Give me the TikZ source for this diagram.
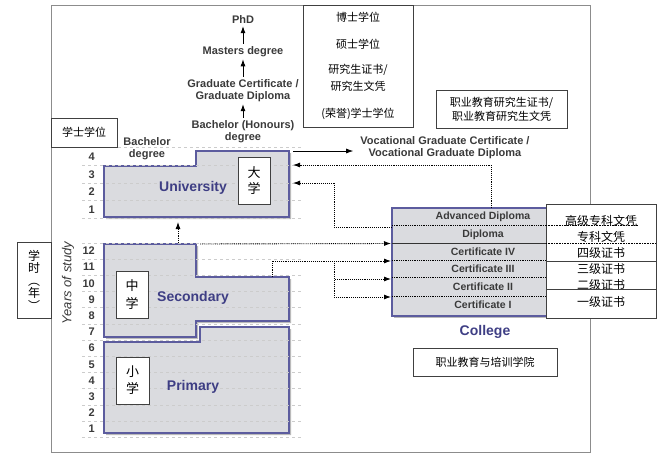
\documentclass[tikz,border=0pt]{standalone}
\usepackage{fontspec}
\setmainfont{Liberation Sans}
\newfontfamily\cjk{Noto Sans CJK SC}
\usetikzlibrary{calc,positioning,arrows.meta,shadows}
\definecolor{sectorfill}{RGB}{218,219,223}
\definecolor{sectorline}{RGB}{92,92,158}
\definecolor{sectorname}{RGB}{62,62,132}
\definecolor{awardtext}{RGB}{58,58,58}
\tikzstyle{outerframe} = [draw=black!45, line width=0.9pt]
\tikzstyle{schoolbox} = [draw=sectorline, line width=1.2pt, fill=sectorfill, drop shadow={shadow xshift=2pt, shadow yshift=-2pt, fill=black!45, opacity=0.6}]
\tikzstyle{sectortitle} = [text=sectorname, font=\bfseries\fontsize{14}{16}\selectfont]
\tikzstyle{award} = [text=awardtext, font=\bfseries\fontsize{11}{12}\selectfont, align=center, inner sep=1pt]
\tikzstyle{rowlabel} = [text=awardtext, font=\bfseries\fontsize{10.5}{12}\selectfont, inner sep=0pt]
\tikzstyle{year} = [text=awardtext, font=\bfseries\fontsize{11}{12}\selectfont, anchor=east, inner sep=0pt]
\tikzstyle{note} = [draw=black!75, fill=white, line width=0.6pt, align=center, inner sep=0pt, font=\cjk\fontsize{11}{14}\selectfont]
\tikzstyle{connector} = [line width=0.8pt, -{Latex[length=7pt,width=5pt]}]
\tikzstyle{pathway} = [line width=0.9pt, densely dotted, -{Latex[length=7pt,width=5pt]}]
\tikzstyle{yearline} = [dashed, draw=black!20, line width=0.7pt]
\begin{document}
\begin{tikzpicture}[x=1pt, y=-1pt]
    \useasboundingbox (0,0) rectangle (670,458);
    \draw[outerframe] (51,5) rectangle (590,452);
    % the three school sectors
    \draw[schoolbox] (104,166) -- (196,166) -- (196,151) -- (289,151) -- (289,217) -- (104,217) -- cycle;
    \draw[schoolbox] (104,244) -- (196,244) -- (196,277) -- (289,277) -- (289,321) -- (196,321) -- (196,337) -- (104,337) -- cycle;
    \draw[schoolbox] (104,342) -- (200,342) -- (200,327) -- (289,327) -- (289,433) -- (104,433) -- cycle;
    \coordinate (unitop) at (289,151);
    \coordinate (uniright1) at (293,165);
    \coordinate (uniright2) at (293,183);
    \coordinate (unibottom) at (178,222);
    \coordinate (secup) at (178,243);
    \coordinate (sectop) at (200,244);
    \coordinate (secstep) at (272,277);
    % years of study
    \foreach \y in {147,165,183,200,218}
        \draw[yearline] (82,\y) -- (303,\y);
    \foreach \k in {0,...,12}
        \draw[yearline] (82,{243+16.2*\k}) -- (303,{243+16.2*\k});
    \foreach \n/\y in {4/157,3/175,2/192,1/210}
        \node[year] (uni\n) at (95,\y) {\n};
    \foreach \n in {1,...,12}
        \node[year] (sch\n) at (95,{251+16.2*(12-\n)}) {\n};
    \node[rotate=90, text=awardtext, font=\itshape\fontsize{13}{14}\selectfont] (yearsofstudy) at (68,283) {Years of study};
    \node[sectortitle] (university) at (193,188) {University};
    \node[sectortitle] (secondary) at (193,298) {Secondary};
    \node[sectortitle] (primary) at (193,387) {Primary};
    \node[note, minimum width=32pt, minimum height=47pt, font=\cjk\fontsize{13}{16}\selectfont] (daxue) at (254,180.5) {大\\学};
    \node[note, minimum width=32pt, minimum height=47pt, font=\cjk\fontsize{13}{18}\selectfont] (zhongxue) at (132,294.5) {中\\学};
    \node[note, minimum width=33pt, minimum height=47pt, font=\cjk\fontsize{13}{17}\selectfont] (xiaoxue) at (132.5,380.5) {小\\学};
    % college
    \node[schoolbox, minimum width=188pt, minimum height=108pt, inner sep=0pt] (college) at (486,262) {};
    \foreach \name/\txt/\y in {adv/Advanced Diploma/217, dip/Diploma/235, cert4/Certificate IV/252, cert3/Certificate III/269, cert2/Certificate II/287, cert1/Certificate I/305}
        \node[rowlabel] (\name) at (483,\y) {\txt};
    \foreach \y in {225,260,277,296}
        \draw[densely dotted, line width=0.8pt] (392,\y) -- (546,\y);
    \draw[line width=0.8pt, black!80] (392,243) -- (546,243);
    \node[note, minimum width=110pt, minimum height=114pt, font=\cjk\fontsize{12}{16.2}\selectfont] (collegecn) at (601,261) {高级专科文凭\\专科文凭\\四级证书\\三级证书\\二级证书\\一级证书};
    \draw[densely dotted, line width=0.6pt] (546,225) -- (638,225);
    \draw[densely dotted, line width=0.6pt] (546,243) -- (656,243);
    \draw[line width=0.6pt, black!75] (546,261) -- (656,261);
    \draw[line width=0.6pt, black!75] (546,289) -- (656,289);
    \node[sectortitle] (collegename) at (485,332) {College};
    \node[note, minimum width=144pt, minimum height=28pt] (tafe) at (485,362) {职业教育与培训学院};
    \coordinate (advtop) at (491,208);
    \coordinate (dipleft) at (392,227);
    \coordinate (cert4in) at (391,243.5);
    \coordinate (cert3in) at (391,261);
    \coordinate (cert2in) at (391,279);
    \coordinate (cert1in) at (391,297);
    \coordinate (branch) at (334,261);
    % higher education awards
    \node[award] (phd) at (243,20) {PhD};
    \node[award, below of = phd, yshift = -3.5pt] (masters) {Masters degree};
    \node[award, below of = masters, yshift = -10.5pt] (gradcert) {Graduate Certificate /\\Graduate Diploma};
    \node[award, below of = gradcert, yshift = -12.5pt] (honours) {Bachelor (Honours)\\degree};
    \node[award] (bachelor) at (147,149) {Bachelor\\degree};
    \node[award] (vgc) at (445,147.5) {Vocational Graduate Certificate /\\Vocational Graduate Diploma};
    \node[note, minimum width=66pt, minimum height=29pt] (bachelorcn) at (84,132.5) {学士学位};
    \node[note, minimum width=110pt, minimum height=122pt, font=\cjk\fontsize{11}{17}\selectfont] (degreecn) at (358,66) {博士学位\\[10pt]硕士学位\\[8pt]研究生证书/\\研究生文凭\\[10pt](荣誉)学士学位};
    \node[note, minimum width=131pt, minimum height=38pt] (vgccn) at (501.5,109) {职业教育研究生证书/\\职业教育研究生文凭};
    \node[note, minimum width=34pt, minimum height=76pt, font=\cjk\fontsize{12}{12.5}\selectfont] (yearscn) at (34,280) {学\\时\\︵\\年\\︶};
    \draw[connector, shorten <=2pt, shorten >=1pt] (masters) -- (phd);
    \draw[connector, shorten <=2pt, shorten >=1pt] (gradcert) -- (masters);
    \draw[connector, shorten <=2pt, shorten >=1pt] (honours) -- (gradcert);
    \draw[connector, shorten >=6pt] ($(unitop)+(4,0)$) -- (unitop -| vgc.west);
    % pathways
    \draw[pathway] (secup) -- (unibottom);
    \draw[pathway] (advtop) |- (uniright1);
    \draw[pathway] (dipleft) -- (334,227) |- (uniright2);
    \draw[pathway] (sectop) -- (cert4in);
    \draw[pathway] (secstep) |- (cert3in);
    \draw[pathway] (branch) |- (cert2in);
    \draw[pathway] (branch) |- (cert1in);
\end{tikzpicture}
\end{document}
